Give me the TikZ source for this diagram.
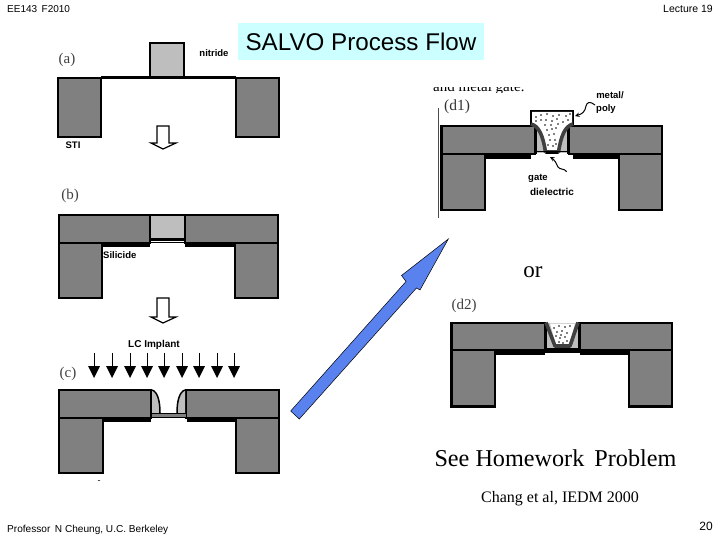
\documentclass[tikz,border=0pt]{standalone}
\usepackage{fontspec}
\setmainfont{Liberation Serif}
\newfontfamily\arialf{Liberation Sans}
\begin{document}
\begin{tikzpicture}[x=1pt,y=-1pt,
  block/.style={fill=stigray,draw=black,line width=2.3pt,line join=miter},
  nitr/.style={fill=nitgray,draw=black,line width=2.3pt},
  silic/.style={fill=black,draw=none},
  hollow/.style={fill=white,draw=black,line width=1.2pt},
  txt/.style={inner sep=0pt,anchor=center},
  sf/.style={txt,font=\arialf\fontsize{10}{11}\selectfont},
  lab/.style={txt,font=\arialf\bfseries\fontsize{9.5}{10}\selectfont},
  fig/.style={txt,font=\fontsize{15}{16}\selectfont,text=black!75},
  ugate/.style={line width=3.6pt,draw=ugray,line join=round},
  squig/.style={line width=1pt,->,>=stealth}]
\definecolor{stigray}{HTML}{808080}
\definecolor{nitgray}{HTML}{BEBEBE}
\definecolor{titlebg}{HTML}{CCFFFF}
\definecolor{bigblue}{HTML}{5A82EE}
\definecolor{ugray}{HTML}{404040}
\useasboundingbox (0,0) rectangle (720,540);
\fill[white] (0,0) rectangle (720,540);
% headers
\node[sf,anchor=west] (hdl) at (7,9) {EE143\, F2010};
\node[sf,anchor=east,font=\arialf\fontsize{10.5}{11}\selectfont] (hdr) at (713,9) {Lecture 19};
\node[sf,anchor=west,font=\arialf\fontsize{10.1}{11}\selectfont] (foot) at (7,530) {Professor\, N Cheung, U.C. Berkeley};
\node[txt,anchor=east,font=\arialf\fontsize{12}{13}\selectfont] (num) at (713,526) {20};
% title
\fill[titlebg] (238,23) rectangle (484,60);
\node[txt,font=\arialf\fontsize{24.2}{26}\selectfont] (title) at (361,42) {SALVO Process Flow};
% (a)
\draw[line width=2.3pt] (101,77.5) -- (236,77.5);
\draw[block] (58,78) rectangle (101,137);
\draw[block] (236,78) rectangle (279,137);
\draw[nitr] (150,43) rectangle (184,78);
\fill (150,76.5) rectangle (184,79.5);
\node[fig] (la) at (67,60) {(a)};
\node[lab] (ln) at (214,53) {nitride};
\node[lab] (ls) at (73,145) {STI};
\draw[hollow] (157,126) -- (169,126) -- (169,143) -- (176,143) -- (163,149) -- (151,143) -- (157,143) -- cycle;
% (b)
\draw[block] (59,215) rectangle (150,243);
\draw[block] (185,215) rectangle (278,243);
\draw[block] (59,243) rectangle (102,298);
\draw[block] (235,243) rectangle (278,298);
\fill[nitgray] (151,216) rectangle (184,238);
\draw[line width=1.5pt] (150,215) -- (185,215);
\fill (150,238) rectangle (185,240.5);
\draw[line width=1pt] (150,242.5) -- (185,242.5);
\fill[silic] (102,243) rectangle (150,247);
\fill[silic] (185,243) rectangle (235,247);
\node[fig] (lb) at (70,196) {(b)};
\node[lab,anchor=west] (lsi) at (103,255) {Silicide};
\draw[hollow] (157,298) -- (169,298) -- (169,317) -- (176,317) -- (163,323) -- (151,317) -- (157,317) -- cycle;
% (c)
\draw[block] (59,390) rectangle (151,418);
\draw[block] (186,390) rectangle (279,418);
\draw[block] (59,418) rectangle (103,473);
\draw[block] (236,418) rectangle (279,473);
\fill[silic] (103,418) rectangle (151,422);
\fill[silic] (187,418) rectangle (236,422);
\fill[nitgray,draw=none] (152,391) .. controls (158,393) and (160,402) .. (160,413) -- (152,413) -- cycle;
\fill[nitgray,draw=none] (185,391) .. controls (179,393) and (177,402) .. (177,413) -- (185,413) -- cycle;
\draw[line width=1.5pt] (152,390) .. controls (158,392) and (160,402) .. (160,413);
\draw[line width=1.5pt] (185,390) .. controls (179,392) and (177,402) .. (177,413);
\draw[fill=stigray,line width=1pt] (151,413.5) rectangle (186,417);
\node[lab,font=\arialf\bfseries\fontsize{10}{11}\selectfont] (ll) at (154,345) {LC Implant};
\node[fig] (lc) at (68,374) {(c)};
\foreach \i/\x in {1/94,2/112,3/130,4/147,5/164,6/182,7/199,8/217,9/234}{
  \coordinate (s\i) at (\x,353);
  \coordinate (e\i) at (\x,378);
  \draw[line width=1pt] (s\i) -- (\x,367);
  \fill (\x-6,366) -- (\x+6,366) -- (e\i) -- cycle;
}
\node[txt,font=\arialf\fontsize{9}{9}\selectfont] (dash) at (99,482) {-};
% big arrow
\draw[fill=bigblue,draw=black,line width=.5pt] (448.3,239) -- (401.5,275.5) -- (406,281.5) -- (290.7,411) -- (299.3,419) -- (416.5,288) -- (420,290) -- cycle;
% (d1)
\draw[black!70,line width=.8pt] (438.3,108) -- (438.3,218);
\begin{scope}
\clip (430,87.5) rectangle (540,92.5);
\node[txt,anchor=base west,font=\fontsize{15}{16}\selectfont] (dtop) at (433,92) {and metal gate:};
\end{scope}
\node[fig,font=\fontsize{15.5}{17}\selectfont,text=black!80] (ld1) at (457,107) {(d1)};
\draw[block] (441.5,126) rectangle (535,154);
\draw[block] (569,126) rectangle (662,154);
\draw[block] (441.5,154) rectangle (485,210);
\draw[block] (619,154) rectangle (662,210);
\fill[silic] (485,154) rectangle (531,159.5);
\fill[silic] (573,154) rectangle (619,159.5);
\fill[nitgray] (535,127) rectangle (569,153);
\fill (534.5,126) rectangle (537,154);
\fill (567,126) rectangle (569.5,154);
\draw[line width=2.3pt,fill=white] (531,126) -- (531,111) -- (573,111) -- (573,126);
\fill[white] (532,112) -- (572,112) -- (572,125) .. controls (565,127) and (562,135) .. (559,150) -- (546,150) .. controls (543,135) and (539,127) .. (532,125) -- cycle;
\draw[ugate] (531,124) .. controls (539,126) and (543,136) .. (545.5,152) -- (558.5,152) .. controls (561,136) and (565,126) .. (573,124);
\fill (546,151) rectangle (558,154);
\draw[line width=1pt] (535,151.5) -- (569,151.5);
\foreach \x/\y in {536/117,541/115,547/114,553/116,559/115,566/116,570/114,536/121,541/120,546/120,552/121,557/119,563/122,568/120,545/125,551/125,558/124,547/130,552/129,556/128,549/135,554/134,550/140,555/140,548/145,553/146,556/144}{
  \fill (\x,\y) circle[radius=.9];
}
\node[lab] (lm) at (610,95) {metal/};
\node[lab] (lp) at (606,109) {poly};
\node[lab] (lg) at (538,178) {gate};
\node[lab,font=\arialf\bfseries\fontsize{10}{11}\selectfont] (ld) at (552,191.5) {dielectric};
\coordinate (sq1) at (595,105);
\coordinate (sq2) at (575,116);
\coordinate (sq3) at (566.7,171.7);
\coordinate (sq4) at (550,157);
\draw[squig] (sq1) .. controls (590,101) and (587,102) .. (586,106) .. controls (585,112) and (582,114) .. (sq2);
\draw[squig] (sq3) .. controls (564,168) and (560,170) .. (558,167) .. controls (556,163) and (555,160) .. (sq4);
% or
\node[txt,font=\fontsize{23}{25}\selectfont] (or) at (533,272) {or};
% (d2)
\node[fig] (ld2) at (464,306) {(d2)};
\draw[block] (451.5,323) rectangle (545,350);
\draw[block] (579.5,323) rectangle (672,350);
\draw[block] (451.5,350) rectangle (495,406.5);
\draw[block] (629,350) rectangle (672,406.5);
\fill[silic] (495,350) rectangle (545,354.5);
\fill[silic] (580,350) rectangle (629,354.5);
\fill[nitgray] (546,323) rectangle (579,348);
\fill (544.5,323) rectangle (547,353);
\fill (578,323) rectangle (580.5,353);
\fill (545,347.5) rectangle (580,352.5);
\fill[white] (550,323.5) -- (575,323.5) -- (569,345) -- (556,345) -- cycle;
\draw[ugate] (546,322.5) -- (555,346) -- (570,346) -- (578,322.5);
\foreach \x/\y in {554/328,559/326,565/327,570/326,557/332,562/331,567/333,556/336,560/338,565/337,559/342,563/343,567/341,561/335}{
  \fill (\x,\y) circle[radius=.9];
}
% captions
\node[txt,font=\fontsize{24.2}{26}\selectfont] (hw) at (555.5,458) {See Homework\, Problem};
\node[txt,font=\fontsize{16}{18}\selectfont] (ch) at (560,499) {Chang et al, IEDM 2000};
\end{tikzpicture}
\end{document}
